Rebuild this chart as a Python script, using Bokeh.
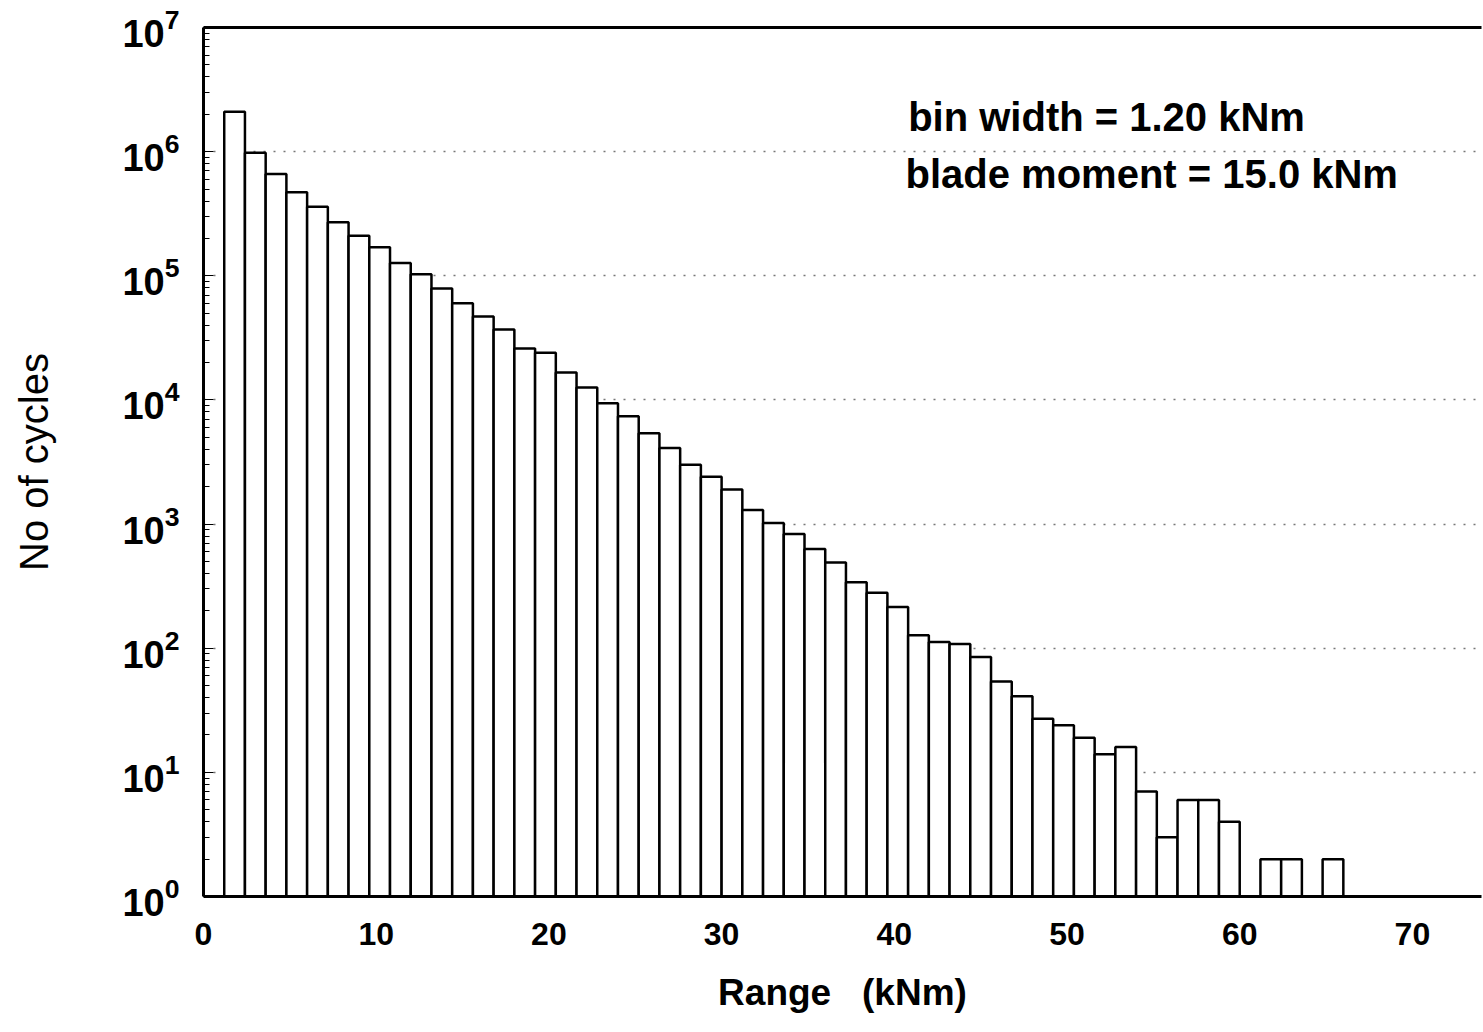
from bokeh.plotting import figure
from bokeh.models import Range1d, LinearAxis, Label, FixedTicker, ColumnDataSource
from bokeh.embed import file_html
from bokeh.resources import INLINE

# ---- data ----
bin_width = 1.2  # kNm
bin_index = list(range(1, 55))
counts = [2100000, 980000, 660000, 470000, 360000, 270000, 210000, 170000,
          127000, 103000, 79000, 60000, 47000, 37000, 26000, 24000, 16600,
          12600, 9400, 7400, 5400, 4100, 3000, 2400, 1900, 1300, 1020, 830,
          630, 490, 340, 280, 215, 127, 112, 108, 85, 54, 41, 27, 24, 19, 14,
          16, 7, 3, 6, 6, 4, 0, 2, 2, 0, 2]
x_ticks = [0, 10, 20, 30, 40, 50, 60, 70]
note_lines = ["bin width = 1.20 kNm", "blade moment = 15.0 kNm"]

# ---- build ----
rows = [(k, c) for k, c in zip(bin_index, counts) if c > 0]
src = ColumnDataSource(dict(
    left=[k * bin_width for k, _ in rows],
    right=[(k + 1) * bin_width for k, _ in rows],
    top=[c for _, c in rows],
    bottom=[1] * len(rows),
))

FONT = "Liberation Sans"

p = figure(width=1483, height=1032, x_range=Range1d(0, 74.0),
           y_range=Range1d(1, 1e7), y_axis_type="log",
           output_backend="svg", toolbar_location=None,
           min_border_left=203, min_border_top=27, min_border_bottom=136,
           min_border_right=2)
p.outline_line_color = None
p.background_fill_color = "white"
p.border_fill_color = "white"

p.quad(left="left", right="right", top="top", bottom="bottom", source=src,
       fill_color="white", line_color="black", line_width=2.5)

# axes
p.xaxis.ticker = FixedTicker(ticks=x_ticks)
p.xaxis.axis_line_width = 3
p.xaxis.axis_line_color = "black"
p.xaxis.major_tick_line_color = None
p.xaxis.minor_tick_line_color = None
p.xaxis.major_label_text_font = FONT
p.xaxis.major_label_text_font_style = "bold"
p.xaxis.major_label_text_font_size = "32px"
p.xaxis.major_label_text_color = "black"
p.xaxis.major_label_standoff = 20
p.xaxis.axis_label = "Range\u00a0\u00a0 (kNm)"
p.xaxis.axis_label_text_font = FONT
p.xaxis.axis_label_text_font_style = "bold"
p.xaxis.axis_label_text_font_size = "37px"
p.xaxis.axis_label_text_color = "black"
p.xaxis.axis_label_standoff = 24

p.yaxis.axis_line_width = 3
p.yaxis.axis_line_color = "black"
p.yaxis.major_tick_in = 10
p.yaxis.major_tick_out = 0
p.yaxis.minor_tick_in = 6
p.yaxis.minor_tick_out = 0
p.yaxis.major_tick_line_color = "black"
p.yaxis.minor_tick_line_color = "black"
p.yaxis.major_label_text_font = FONT
p.yaxis.major_label_text_font_style = "bold"
p.yaxis.major_label_text_font_size = "38px"
p.yaxis.major_label_text_color = "black"
p.yaxis.major_label_standoff = 24
p.yaxis.axis_label = "No of cycles"
p.yaxis.axis_label_text_font = FONT
p.yaxis.axis_label_text_font_style = "normal"
p.yaxis.axis_label_text_font_size = "40px"
p.yaxis.axis_label_text_color = "black"
p.yaxis.axis_label_standoff = 63

top_axis = LinearAxis(ticker=FixedTicker(ticks=[]), axis_line_width=3,
                      axis_line_color="black",
                      major_tick_line_color=None, minor_tick_line_color=None)
p.add_layout(top_axis, "above")

p.xgrid.grid_line_color = None
p.ygrid.grid_line_color = "#777777"
p.ygrid.grid_line_dash = "2 8"
p.ygrid.grid_line_width = 1.5

# annotations
p.add_layout(Label(x=40.8, y=1.9e6, text=note_lines[0], text_font=FONT,
                   text_font_style="bold", text_font_size="40px",
                   text_color="black", text_baseline="middle"))
p.add_layout(Label(x=40.65, y=6.6e5, text=note_lines[1], text_font=FONT,
                   text_font_style="bold", text_font_size="40px",
                   text_color="black", text_baseline="middle"))

open("out.html", "w").write(file_html(p, INLINE))
